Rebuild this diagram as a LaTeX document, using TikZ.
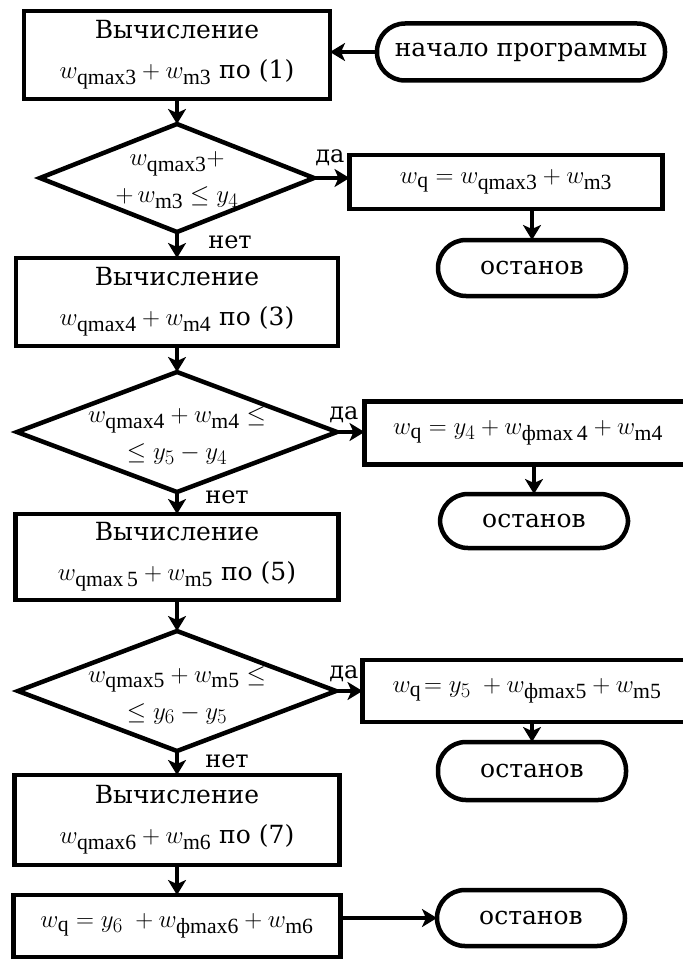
\documentclass[tikz,border=0pt]{standalone}
\usepackage{amsmath}
\usepackage{fontspec}
\setmainfont{Liberation Serif}
\newfontfamily\lab{DejaVu Serif}
\newcommand{\mth}[1]{{\fontsize{31}{31}\selectfont$#1$}}
\usetikzlibrary{arrows.meta,shapes.geometric}
\begin{document}
\begin{tikzpicture}[x=1pt,y=-1pt,
  every node/.style={inner sep=0pt, outer sep=0pt},
  proc/.style={draw, line width=4.5pt, align=center, font=\lab\fontsize{25}{40}\selectfont},
  term/.style={draw, line width=4.5pt, rounded corners=28pt, minimum width=188pt, minimum height=56pt, font=\lab\fontsize{25}{30}\selectfont},
  dec/.style={draw, diamond, line width=4.5pt},
  dtext/.style={align=center, font=\lab\fontsize{25}{37}\selectfont},
  lbl/.style={font=\lab\fontsize{24}{26}\selectfont},
  arr/.style={line width=4pt, -{Stealth[length=15pt,width=18pt,inset=4pt]}},
]
\useasboundingbox (0,0) rectangle (682,960);

% left column
\node[proc, minimum width=306pt, minimum height=88pt] (box1) at (177,55)
  {Вычисление\\\mth{w_{\textrm{qmax3}}+w_{\textrm{m3}}} по (1)};
\node[dec, minimum width=274pt, minimum height=108pt] (d1) at (177,178) {};
\node[dtext] (t1) at (177,180) {\mth{w_{\textrm{qmax3}}+}\\\mth{+\,w_{\textrm{m3}}\leq y_4}};
\node[proc, minimum width=322pt, minimum height=88pt] (box2) at (177,302)
  {Вычисление\\\mth{w_{\textrm{qmax4}}+w_{\textrm{m4}}} по (3)};
\node[dec, minimum width=320pt, minimum height=120pt] (d2) at (177,432) {};
\node[dtext] (t2) at (177,436) {\mth{w_{\textrm{qmax4}}+w_{\textrm{m4}}\leq}\\\mth{\leq y_5-y_4}};
\node[proc, minimum width=323pt, minimum height=86pt] (box3) at (177,557)
  {Вычисление\\\mth{w_{\textrm{qmax\,5}}+w_{\textrm{m5}}} по (5)};
\node[dec, minimum width=318pt, minimum height=120pt] (d3) at (177,691) {};
\node[dtext] (t3) at (177,695) {\mth{w_{\textrm{qmax5}}+w_{\textrm{m5}}\leq}\\\mth{\leq y_6-y_5}};
\node[proc, minimum width=325pt, minimum height=90pt] (box4) at (177,820)
  {Вычисление\\\mth{w_{\textrm{qmax6}}+w_{\textrm{m6}}} по (7)};
\node[proc, minimum width=327pt, minimum height=62pt] (box5) at (177,926)
  {\mth{w_{\textrm{q}}=y_6\;+w_{\textrm{фmax6}}+w_{\textrm{m6}}}};

% right column
\node[term, minimum width=288pt, minimum height=57pt] (start) at (521,52) {начало программы};
\node[proc, minimum width=313pt, minimum height=54pt] (yes1) at (506,182)
  {\mth{w_{\textrm{q}}=w_{\textrm{qmax3}}+w_{\textrm{m3}}}};
\node[term] (stop1) at (532,268) {останов};
\node[proc, minimum width=327pt, minimum height=63pt] (yes2) at (528,433)
  {\mth{w_{\textrm{q}}=y_4+w_{\textrm{фmax\,4}}+w_{\textrm{m4}}}};
\node[term, minimum height=54pt] (stop2) at (534,521) {останов};
\node[proc, minimum width=329pt, minimum height=62pt] (yes3) at (527,691)
  {\mth{w_{\textrm{q}}\!=y_5\;+w_{\textrm{фmax5}}+w_{\textrm{m5}}}};
\node[term, minimum height=58pt] (stop3) at (532,771) {останов};
\node[term] (stop4) at (531,918) {останов};

% labels
\node[lbl] (da1) at (330,158) {да};
\node[lbl] (net1) at (230,242) {нет};
\node[lbl] (da2) at (344,415) {да};
\node[lbl] (net2) at (227,497) {нет};
\node[lbl] (da3) at (344,674) {да};
\node[lbl] (net3) at (227,761) {нет};

% connectors
\draw[arr] (start.west) -- (box1.east |- start.west);
\draw[arr] (box1.south) -- (d1.north);
\draw[arr] (d1.east) -- (d1.east -| yes1.west);
\draw[arr] (stop1.north |- yes1.south) -- (stop1.north);
\draw[arr] (d1.south) -- (box2.north);
\draw[arr] (box2.south) -- (d2.north);
\draw[arr] (d2.east) -- (d2.east -| yes2.west);
\draw[arr] (stop2.north |- yes2.south) -- (stop2.north);
\draw[arr] (d2.south) -- (box3.north);
\draw[arr] (box3.south) -- (d3.north);
\draw[arr] (d3.east) -- (d3.east -| yes3.west);
\draw[arr] (stop3.north |- yes3.south) -- (stop3.north);
\draw[arr] (d3.south) -- (box4.north);
\draw[arr] (box4.south) -- (box5.north);
\draw[arr] (box5.east |- stop4.west) -- (stop4.west);
\end{tikzpicture}
\end{document}
